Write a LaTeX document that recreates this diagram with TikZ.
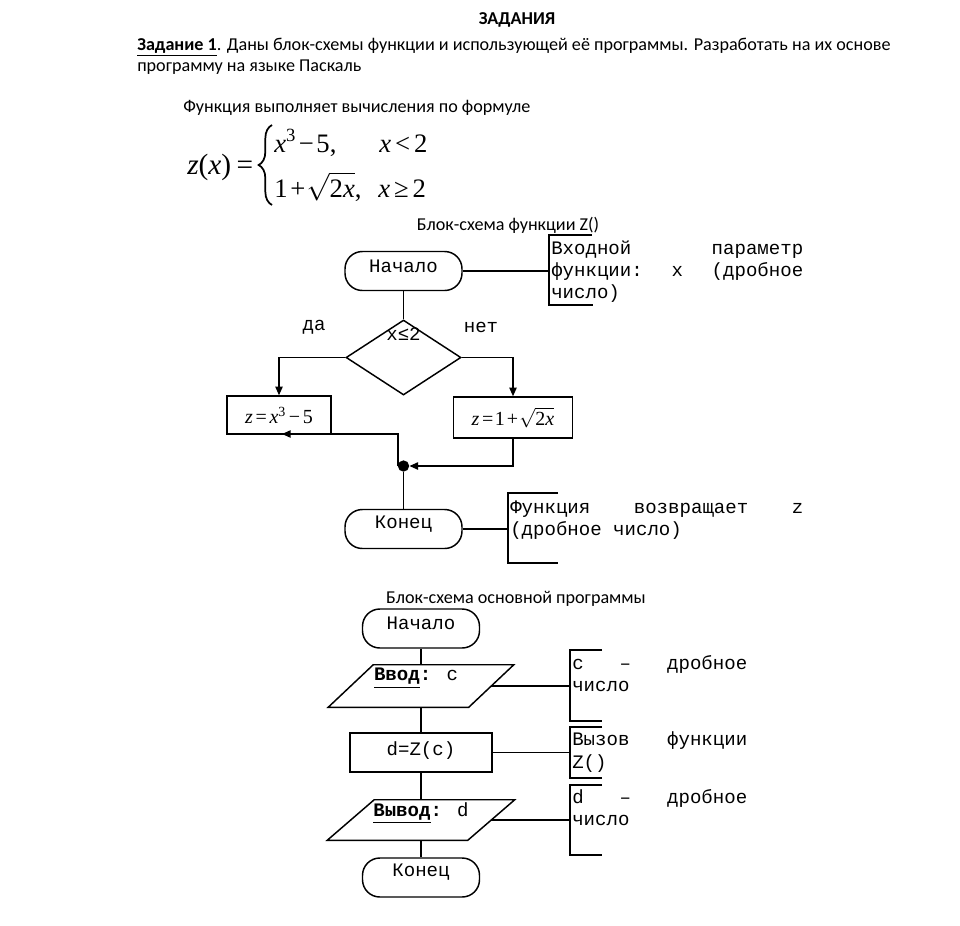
\documentclass[tikz,border=0pt]{standalone}
\usepackage{amsmath}
\usepackage{fontspec}
\setmainfont{Carlito}
\newfontfamily\monofnt{Liberation Mono}
\newfontfamily\serif{Liberation Serif}
\usetikzlibrary{arrows.meta,shapes.geometric,calc,decorations.pathreplacing}
\newcommand\liftt[2]{\raisebox{#1}[\height][\depth]{#2}}
\begin{document}
\begin{tikzpicture}[x=0.75pt,y=-0.75pt,
  every node/.style={inner sep=0pt},
  line/.style={line width=1.1pt},
  arr/.style={line width=1.1pt,-{Triangle[length=6.5pt,width=5.5pt]}},
  mono/.style={font=\monofnt\fontsize{14.3}{16}\selectfont},
  note/.style={mono,anchor=base west},
  sans/.style={font=\fontsize{13.6}{16}\selectfont},
  fml/.style={font=\serif\fontsize{20}{24}\selectfont,anchor=base west},
  bfml/.style={font=\serif\fontsize{15}{18}\selectfont},
  term/.style={draw,line width=1.1pt,rounded corners=13pt,minimum width=87.75pt,minimum height=29.25pt,mono},
  proc/.style={draw,line width=1.1pt}
]
\fill[white] (0,0) rectangle (960,925);
\useasboundingbox (0,0) rectangle (960,925);

% header texts
\node[font=\bfseries\fontsize{13.6}{16}\selectfont] (title) at (517,20) {ЗАДАНИЯ};
\node[sans,anchor=base west] (t1) at (137,50) {\textbf{\underline{Задание 1}}. Даны блок-схемы функции и использующей её программы. Разработать на их основе};
\node[sans,anchor=base west] (t2) at (137,71) {программу на языке Паскаль};
\node[sans,anchor=base west] (t3) at (183,112) {Функция выполняет вычисления по формуле};

% formula
\node[fml,font=\serif\fontsize{22}{26}\selectfont] (zx) at (187,174) {\textit{z}(\textit{x})\kern4pt=};
\draw[line width=1.3pt,decorate,decoration={brace,amplitude=10pt}] (272,205) -- (272,125);
\node[fml] (r1a) at (274,152) {\textit{x}\textsuperscript{3}\kern2pt−\kern2pt5,};
\node[fml] (r1b) at (379,152) {\textit{x}\kern3pt<\kern3pt2};
\node[fml] (r2a) at (274,197) {1\kern2pt+\kern1pt$\sqrt{\text{\serif\fontsize{20}{24}\selectfont2\textit{x}}}$,};
\node[fml] (r2b) at (378,197) {\textit{x}\kern3pt≥\kern3pt2};

\node[sans] (cap1) at (508,225) {Блок-схема функции Z()};
\node[sans] (cap2) at (516,599) {Блок-схема основной программы};

% flowchart 1
\node[term] (s1) at (403.5,271) {\liftt{3.75pt}{Начало}};
\node[diamond,draw,line width=1.1pt,minimum width=86.25pt,minimum height=56.25pt] (d1) at (403.5,357.5) {};
\node[mono] (c1) at (403.5,334) {x≤2};
\node[mono] (yes) at (314,327) {да};
\node[mono] (no) at (481,327) {нет};
\node[proc,minimum width=78pt,minimum height=28.5pt,bfml] (b1) at (279,415)
  {\textit{z}\kern2pt=\kern2pt\textit{x}\textsuperscript{3}\kern2pt−\kern2pt5};
\node[proc,minimum width=89.25pt,minimum height=30.75pt,bfml] (b2) at (513,417.5)
  {\textit{z}\kern2pt=\kern1pt1\kern1.5pt+\kern1pt$\sqrt{\text{\serif\fontsize{15}{18}\selectfont2\textit{x}}}$};
\node[circle,fill,minimum size=8.5pt] (dot) at (403.5,466) {};
\node[term] (e1) at (403.5,529) {\liftt{3.75pt}{Конец}};
\coordinate (j1) at (398,466);
\coordinate (a1) at (282,434);
\coordinate (br1) at (549,271);
\coordinate (br2) at (508,529);

\draw[line] (s1.south) -- (d1.north);
\draw[arr] (d1.west) -| (b1.north);
\draw[arr] (d1.east) -| (b2.north);
\draw[arr] (b2.south) |- (dot.east);
\draw[arr] (j1) |- (a1);
\draw[line] (dot.south) -- (e1.north);
\draw[line] (s1.east) -- (br1);
\draw[line] (e1.east) -- (br2);

\draw[line] (592,235) -- (549,235) -- (549,305) -- (593,305);
\draw[line] (558,493) -- (508,493) -- (508,563) -- (558,563);

\node[note] (n11) at (551,254) {\makebox[189pt][l]{Входной\hfill параметр}};
\node[note] (n12) at (551,276) {\makebox[189pt][l]{функции:\hfill x\hfill (дробное}};
\node[note] (n13) at (551,298) {число)};
\node[note] (n21) at (510,513) {\makebox[219.75pt][l]{Функция\hfill возвращает\hfill z}};
\node[note] (n22) at (510,535) {(дробное число)};

% flowchart 2
\node[term] (s2) at (421,628.5) {\liftt{3.75pt}{Начало}};
\node[minimum width=105pt,minimum height=31.5pt] (p1) at (421,686) {};
\draw[line] ([xshift=16.9pt]p1.north west) -- ([xshift=16.9pt]p1.north east)
  -- ([xshift=-16.9pt]p1.south east) -- ([xshift=-16.9pt]p1.south west) -- cycle;
\node[mono] (p1t) at (416,678) {\textbf{\underline{Ввод}:} c};
\node[proc,minimum width=106.5pt,minimum height=29.25pt,mono] (r2) at (421,752.5) {\liftt{1.5pt}{d=Z(c)}};
\node[minimum width=105pt,minimum height=30pt] (p2) at (421,820) {};
\draw[line] ([xshift=17.6pt]p2.north west) -- ([xshift=17.6pt]p2.north east)
  -- ([xshift=-17.6pt]p2.south east) -- ([xshift=-17.6pt]p2.south west) -- cycle;
\node[mono] (p2t) at (421,813) {\textbf{\underline{Вывод}:} d};
\node[term] (e2) at (421,877.5) {\liftt{3.75pt}{Конец}};

\draw[line] (s2.south) -- (p1.north);
\draw[line] (p1.south) -- (r2.north);
\draw[line] (r2.south) -- (p2.north);
\draw[line] (p2.south) -- (e2.north);

\coordinate (br3) at (570,686);
\coordinate (br4) at (570,752.5);
\coordinate (br5) at (570,820);
\draw[line] (p1.east) -- (br3);
\draw[line] (r2.east) -- (br4);
\draw[line] (p2.east) -- (br5);
\draw[line] (602,650) -- (570,650) -- (570,721) -- (602,721);
\draw[line] (602,727) -- (570,727) -- (570,778) -- (602,778);
\draw[line] (602,785) -- (570,785) -- (570,855) -- (602,855);

\node[note] (n31) at (572,669) {\makebox[131.25pt][l]{c\hfill–\hfill дробное}};
\node[note] (n32) at (572,691) {число};
\node[note] (n41) at (572,745) {\makebox[131.25pt][l]{Вызов\hfill функции}};
\node[note] (n42) at (572,768) {Z()};
\node[note] (n51) at (572,803) {\makebox[131.25pt][l]{d\hfill–\hfill дробное}};
\node[note] (n52) at (572,825) {число};
\end{tikzpicture}
\end{document}
